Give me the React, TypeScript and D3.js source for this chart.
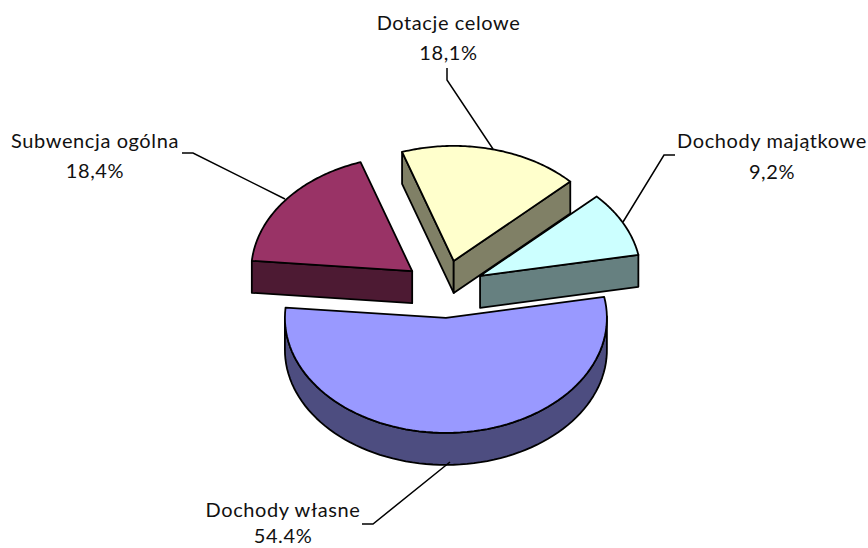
/**
 * Exploded 3D pie chart of budget income structure
 */
import * as d3 from 'd3';

const categories = ['Dotacje celowe', 'Dochody majątkowe', 'Dochody własne', 'Subwencja ogólna'];
const shares = [18.1, 9.2, 54.4, 18.4];
const shareLabels = ['18,1%', '9,2%', '54.4%', '18,4%'];
const topColors = ['#FFFFCC', '#CCFFFF', '#9999FF', '#993366'];
const sideColors = ['#808066', '#668080', '#4D4D80', '#4D1A33'];

const width = 868;
const height = 548;
const cx = 444;
const cy = 289;
const rx = 161;
const ry = 115;
const depth = 32;
const explode = 40.5;
const startDeg = -18.7;

// label anchors and leader lines, per category
const labelLayout = [
  { x: 448.5, y: 30, gap: 30, leader: [[447, 68], [447, 80], [493, 149]] },
  { x: 772, y: 148, gap: 31, leader: [[675, 155], [664, 155], [623, 222]] },
  { x: 283, y: 517, gap: 26, leader: [[362, 524], [373, 524], [450, 462]] },
  { x: 95, y: 148, gap: 30, leader: [[182, 153], [193, 153], [285, 199]] },
];

// back to front
const drawOrder = [3, 1, 0, 2];

const pie = d3.pie<number>()
  .value(d => d)
  .sort(null)
  .startAngle((startDeg * Math.PI) / 180)
  .endAngle((startDeg * Math.PI) / 180 + 2 * Math.PI);

const arcs = pie(shares);

const line = d3.line<[number, number]>();

function project(a: number, ox: number, oy: number, dz = 0): [number, number] {
  return [ox + rx * Math.sin(a), oy - ry * Math.cos(a) + dz];
}

function Slice({ index }: { index: number }) {
  const { startAngle, endAngle } = arcs[index];
  const mid = (startAngle + endAngle) / 2;
  const ox = cx + explode * Math.sin(mid);
  const oy = cy - (explode * Math.cos(mid) * ry) / rx;

  const steps = d3.range(0, 81).map(i => startAngle + ((endAngle - startAngle) * i) / 80);
  const rim = steps.map(a => project(a, ox, oy));
  const apex: [number, number] = [ox, oy];
  const top = line([apex, ...rim])! + 'Z';

  const quad = (a: number) => {
    const p = project(a, ox, oy);
    return line([apex, p, [p[0], p[1] + depth], [ox, oy + depth]])! + 'Z';
  };

  // outer wall, only the part turned towards the viewer
  const front = steps.filter(a => Math.cos(a) <= 0.02);
  const wall = front.length
    ? line([
        ...front.map(a => project(a, ox, oy)),
        ...front.slice().reverse().map(a => project(a, ox, oy, depth)),
      ])! + 'Z'
    : null;

  const sideProps = {
    fill: sideColors[index],
    stroke: '#000',
    strokeWidth: 1.8,
    strokeLinejoin: 'round' as const,
  };

  // a cut face shows only when its outward normal points down the screen
  const showStart = Math.sin(startAngle) < 0;
  const showEnd = Math.sin(endAngle) > 0;

  return (
    <g>
      {showStart && <path d={quad(startAngle)} {...sideProps} />}
      {showEnd && <path d={quad(endAngle)} {...sideProps} />}
      {wall && <path d={wall} {...sideProps} />}
      <path d={top} fill={topColors[index]} stroke="#000" strokeWidth={1.8} strokeLinejoin="round" />
    </g>
  );
}

export default function App() {
  return (
    <svg
      width={width}
      height={height}
      viewBox={`0 0 ${width} ${height}`}
      style={{ position: 'fixed', left: 0, top: 0, background: '#fff' }}
    >
      {drawOrder.map(i => (
        <Slice key={categories[i]} index={i} />
      ))}
      {labelLayout.map((l, i) => (
        <g key={categories[i]}>
          <path d={line(l.leader as [number, number][])!} fill="none" stroke="#000" strokeWidth={1.5} />
          <text
            x={l.x}
            y={l.y}
            textAnchor="middle"
            fontFamily="Lato, 'Open Sans', sans-serif"
            fontSize={20}
            letterSpacing={0.6}
            fill="#111"
          >
            {categories[i]}
          </text>
          <text
            x={l.x}
            y={l.y + l.gap}
            textAnchor="middle"
            fontFamily="Lato, 'Open Sans', sans-serif"
            fontSize={20}
            letterSpacing={0.6}
            fill="#111"
          >
            {shareLabels[i]}
          </text>
        </g>
      ))}
    </svg>
  );
}
